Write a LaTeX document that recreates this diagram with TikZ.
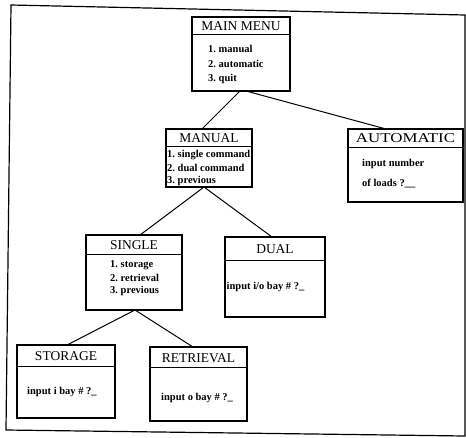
\documentclass[tikz,border=0pt]{standalone}
\usepackage{fontspec}
\usepackage{graphicx}
\setmainfont{Liberation Serif}
\frenchspacing
\begin{document}
\begin{tikzpicture}[x=1pt,y=-1pt,
  box/.style={draw, line width=1.2pt, inner sep=0pt, outer sep=0pt},
  hdr/.style={line width=1pt},
  ttl/.style={inner sep=0pt, font=\fontsize{13.5}{14}\selectfont},
  itm/.style={inner sep=0pt, anchor=west, font=\fontsize{10.5}{12}\selectfont\bfseries},
  conn/.style={line width=1pt},
  frame/.style={line width=1.2pt}]
\useasboundingbox (0,0) rectangle (466,437);
\draw[frame] (11,5) -- (465,15) -- (465,436) -- (6,430) -- cycle;

% MAIN MENU
\node[box, minimum width=98pt, minimum height=74pt] (mm) at (241,54) {};
\draw[hdr] ([yshift=-17pt]mm.north west) -- ([yshift=-17pt]mm.north east);
\node[ttl] (mmT) at (241,26.5) {MAIN MENU};
\node[itm] (mm1) at (208,49) {1. manual};
\node[itm] (mm2) at (208,64) {2. automatic};
\node[itm] (mm3) at (208,79) {3. quit};

% MANUAL
\node[box, minimum width=86pt, minimum height=58pt] (man) at (209,158) {};
\draw[hdr] ([yshift=-17pt]man.north west) -- ([yshift=-17pt]man.north east);
\node[ttl] (manT) at (209,138) {MANUAL};
\node[itm] (man1) at (167,155) {1. single command};
\node[itm] (man2) at (167,168) {2. dual command};
\node[itm] (man3) at (167,181) {3. previous};

% AUTOMATIC
\node[box, minimum width=115pt, minimum height=73pt] (aut) at (405.5,165.5) {};
\draw[hdr] ([yshift=-18pt]aut.north west) -- ([yshift=-18pt]aut.north east);
\node[ttl] (autT) at (405.5,138.5) {\scalebox{1.25}[1]{AUTOMATIC}};
\node[itm] (aut1) at (362,164) {input number};
\node[itm] (aut2) at (362,184) {of loads ?\_\_};

% SINGLE
\node[box, minimum width=96pt, minimum height=75pt] (sin) at (134,272.5) {};
\draw[hdr] ([yshift=-19pt]sin.north west) -- ([yshift=-19pt]sin.north east);
\node[ttl] (sinT) at (134,245.5) {SINGLE};
\node[itm] (sin1) at (110,265) {1. storage};
\node[itm] (sin2) at (110,278) {2. retrieval};
\node[itm] (sin3) at (110,291) {3. previous};

% DUAL
\node[box, minimum width=100pt, minimum height=80pt] (dua) at (275,277) {};
\draw[hdr] ([yshift=-23pt]dua.north west) -- ([yshift=-23pt]dua.north east);
\node[ttl] (duaT) at (275,249) {DUAL};
\node[itm] (dua1) at (226.5,287) {input i/o bay \# ?\_};

% STORAGE
\node[box, minimum width=98pt, minimum height=73pt] (sto) at (66,381.5) {};
\draw[hdr] ([yshift=-21pt]sto.north west) -- ([yshift=-21pt]sto.north east);
\node[ttl] (stoT) at (66,356) {STORAGE};
\node[itm] (sto1) at (27,392) {input i bay \# ?\_};

% RETRIEVAL
\node[box, minimum width=97pt, minimum height=74pt] (ret) at (198.5,384) {};
\draw[hdr] ([yshift=-20pt]ret.north west) -- ([yshift=-20pt]ret.north east);
\node[ttl] (retT) at (198.5,358) {RETRIEVAL};
\node[itm] (ret1) at (161,398) {input o bay \# ?\_};

% connectors
\draw[conn] ([xshift=-1pt]mm.south) -- ([xshift=-7pt]man.north);
\draw[conn] ([xshift=5pt]mm.south) -- ([xshift=-19.5pt]aut.north);
\draw[conn] ([xshift=-5pt]man.south) -- ([xshift=6pt]sin.north);
\draw[conn] ([xshift=-5pt]man.south) -- ([xshift=-3pt]dua.north);
\draw[conn] ([xshift=1pt]sin.south) -- ([xshift=1pt]sto.north);
\draw[conn] ([xshift=1pt]sin.south) -- ([xshift=-5.5pt]ret.north);
\end{tikzpicture}
\end{document}
